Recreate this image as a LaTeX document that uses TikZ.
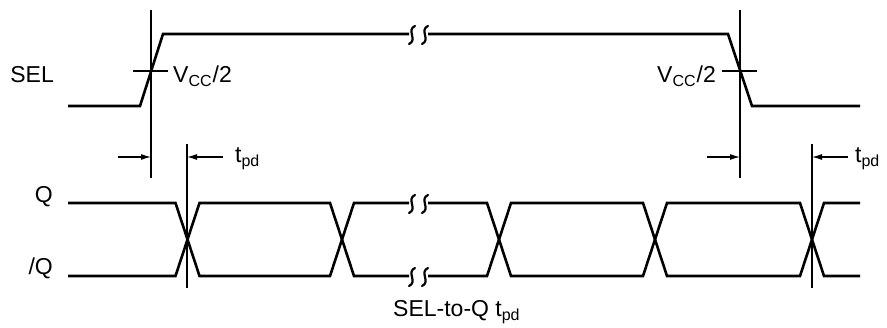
\documentclass[tikz,border=0pt]{standalone}
\usepackage{fontspec}
\setmainfont{Liberation Sans}
\usetikzlibrary{arrows.meta}
\newcommand\sbs[1]{\raisebox{-4pt}{\fontsize{16}{16}\selectfont #1}}
\tikzset{
  wave/.style={line width=2.6pt, line join=miter, line cap=butt},
  thin/.style={line width=1.1pt},
  brkline/.style={line width=2.2pt, line cap=round},
  dim/.style={line width=1.1pt, -{Latex[length=10pt,width=6pt]}},
  lbl/.style={inner sep=0pt, font=\fontsize{23}{27}\selectfont},
  brk/.pic={\draw[brkline] (3,-9) .. controls (-6,-5) and (6,5) .. (-3,9);}
}
\begin{document}
\begin{tikzpicture}[x=1pt,y=-1pt]
\useasboundingbox (0,0) rectangle (887,328);
% SEL waveform
\draw[wave] (68,106) -- (140,106) -- (163,34) -- (409,34);
\draw[wave] (428,34) -- (728,34) -- (752,106) -- (860,106);
\pic at (412,35) {brk};
\pic at (425,35) {brk};
% reference lines
\draw[thin] (151,10) -- (151,178);
\draw[thin] (740,10) -- (740,178);
\draw[thin] (187,144) -- (187,288);
\draw[thin] (812,144) -- (812,288);
\draw[thin] (133,71) -- (168,71);
\draw[thin] (722,71) -- (757,71);
% Q waveform
\draw[wave] (68,203) -- (175.5,203) -- (199.5,276) -- (330,276) -- (354,203) -- (409,203);
\draw[wave] (428,203) -- (487,203) -- (511,276) -- (643,276) -- (667,203) -- (800,203) -- (824,276) -- (860,276);
% /Q waveform
\draw[wave] (68,276) -- (175.5,276) -- (199.5,203) -- (330,203) -- (354,276) -- (409,276);
\draw[wave] (428,276) -- (487,276) -- (511,203) -- (643,203) -- (667,276) -- (800,276) -- (824,203) -- (860,203);
\pic at (412,204) {brk};
\pic at (425,204) {brk};
\pic at (412,277) {brk};
\pic at (425,277) {brk};
% dimension arrows
\coordinate (a1s) at (118,157); \coordinate (a1e) at (151,157);
\coordinate (a2s) at (223,157); \coordinate (a2e) at (187,157);
\coordinate (a3s) at (707,157); \coordinate (a3e) at (740,157);
\coordinate (a4s) at (848,157); \coordinate (a4e) at (812,157);
\draw[dim] (a1s) -- (a1e);
\draw[dim] (a2s) -- (a2e);
\draw[dim] (a3s) -- (a3e);
\draw[dim] (a4s) -- (a4e);
% labels
\node[lbl, anchor=east] (sel) at (54,75) {SEL};
\node[lbl, anchor=east] (q) at (53,197) {Q};
\node[lbl, anchor=east] (nq) at (53,268) {/Q};
\node[lbl, anchor=base west] (v1) at (173,83) {V\sbs{CC}\kern1pt/2};
\node[lbl, anchor=base east] (v2) at (716,83) {V\sbs{CC}\kern1pt/2};
\node[lbl, anchor=base west] (t1) at (235,163) {t\sbs{pd}};
\node[lbl, anchor=base west] (t2) at (855,163) {t\sbs{pd}};
\node[lbl, anchor=base west] (st) at (393,317) {SEL-to-Q t\sbs{pd}};
\end{tikzpicture}
\end{document}
